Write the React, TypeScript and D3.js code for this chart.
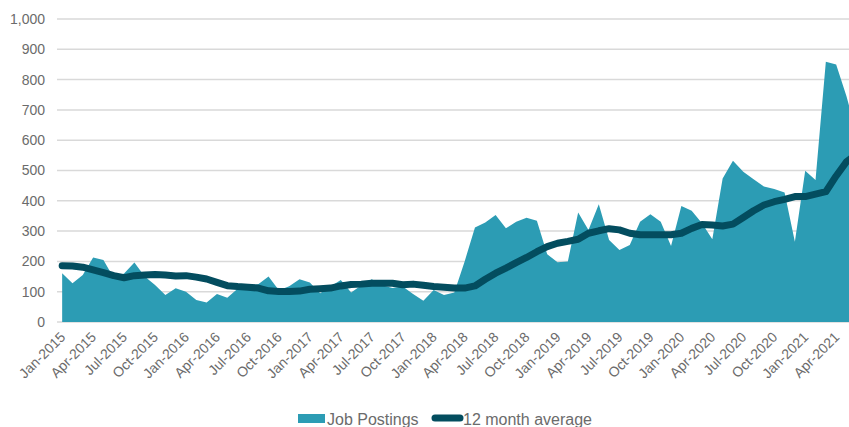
import React from "react";
import * as d3 from "d3";

// monthly job postings, Jan-2015 .. Jun-2021
const postings = [
  161, 128, 155, 213, 205, 145, 160, 196, 150, 122, 89, 111,
  100, 73, 64, 92, 80, 110, 120, 125, 150, 105, 118, 141,
  130, 95, 117, 139, 97, 121, 141, 121, 112, 117, 92, 70,
  106, 89, 97, 200, 312, 328, 353, 309, 331, 344, 334, 224,
  197, 200, 361, 304, 389, 271, 238, 254, 331, 356, 331, 251,
  383, 367, 326, 273, 474, 532, 496, 471, 447, 439, 427, 265,
  499, 469, 859, 850, 745, 620,
];

const average = [
  186, 185, 181, 172, 163, 153, 146, 153, 155, 157, 155, 152,
  153, 148, 142, 131, 120, 117, 115, 112, 103, 101, 101, 102,
  108, 110, 112, 119, 124, 125, 128, 128, 128, 123, 125, 121,
  117, 115, 112, 112, 119, 141, 161, 178, 196, 213, 232, 249,
  260, 266, 273, 293, 301, 308, 304, 293, 288, 288, 288, 288,
  293, 309, 322, 320, 317, 323, 345, 367, 386, 397, 405, 414,
  414, 422, 430, 482, 529, 555,
];

const yTicks = [0, 100, 200, 300, 400, 500, 600, 700, 800, 900, 1000];

const tickLabels = [
  "Jan-2015", "Apr-2015", "Jul-2015", "Oct-2015",
  "Jan-2016", "Apr-2016", "Jul-2016", "Oct-2016",
  "Jan-2017", "Apr-2017", "Jul-2017", "Oct-2017",
  "Jan-2018", "Apr-2018", "Jul-2018", "Oct-2018",
  "Jan-2019", "Apr-2019", "Jul-2019", "Oct-2019",
  "Jan-2020", "Apr-2020", "Jul-2020", "Oct-2020",
  "Jan-2021", "Apr-2021",
];

const months = d3.timeMonths(new Date(2015, 0, 1), new Date(2021, 6, 1));
const fmt = d3.timeFormat("%b-%Y");

const W = 849;
const H = 427;
const AREA = "#2c9cb4";
const LINE = "#034d5f";
const TEXT = "#6b6b6b";
const FONT = "'Liberation Sans', Arial, sans-serif";

export default function App() {
  const x = d3
    .scaleBand<number>()
    .domain(months.map((_, i) => i))
    .range([57, 57 + 10.32 * months.length])
    .paddingInner(0);
  const cx = (i: number) => (x(i) as number) + x.bandwidth() / 2;

  const y = d3.scaleLinear().domain([0, 1000]).range([322, 19]);

  const area = d3
    .area<number>()
    .x((_, i) => cx(i))
    .y0(y(0))
    .y1((d) => y(d));

  const line = d3
    .line<number>()
    .x((_, i) => cx(i))
    .y((d) => y(d));

  const [x0, x1] = x.range();

  return (
    <svg
      width={W}
      height={H}
      style={{ position: "absolute", left: 0, top: 0, background: "#fff" }}
      fontFamily={FONT}
    >
      {yTicks.map((t) => (
        <g key={t}>
          <line x1={x0} x2={x1} y1={y(t)} y2={y(t)} stroke="#d9d9d9" strokeWidth={1.5} />
          <text x={45} y={y(t)} dy="0.35em" textAnchor="end" fontSize={14} fill={TEXT}>
            {d3.format(",")(t)}
          </text>
        </g>
      ))}

      <path d={area(postings) ?? ""} fill={AREA} />
      <path
        d={line(average) ?? ""}
        fill="none"
        stroke={LINE}
        strokeWidth={7}
        strokeLinecap="round"
        strokeLinejoin="round"
      />

      {months.map((m, i) =>
        tickLabels.includes(fmt(m)) ? (
          <text
            key={i}
            transform={`translate(${cx(i) + 4},${338}) rotate(-45)`}
            textAnchor="end"
            fontSize={14}
            fill={TEXT}
          >
            {fmt(m)}
          </text>
        ) : null
      )}

      {/* legend */}
      <rect x={298} y={414} width={27} height={9} fill={AREA} />
      <text x={327} y={425} fontSize={16} fill={TEXT}>Job Postings</text>
      <line x1={435} x2={460} y1={418} y2={418} stroke={LINE} strokeWidth={7} strokeLinecap="round" />
      <text x={463} y={425} fontSize={16} fill={TEXT}>12 month average</text>
    </svg>
  );
}
